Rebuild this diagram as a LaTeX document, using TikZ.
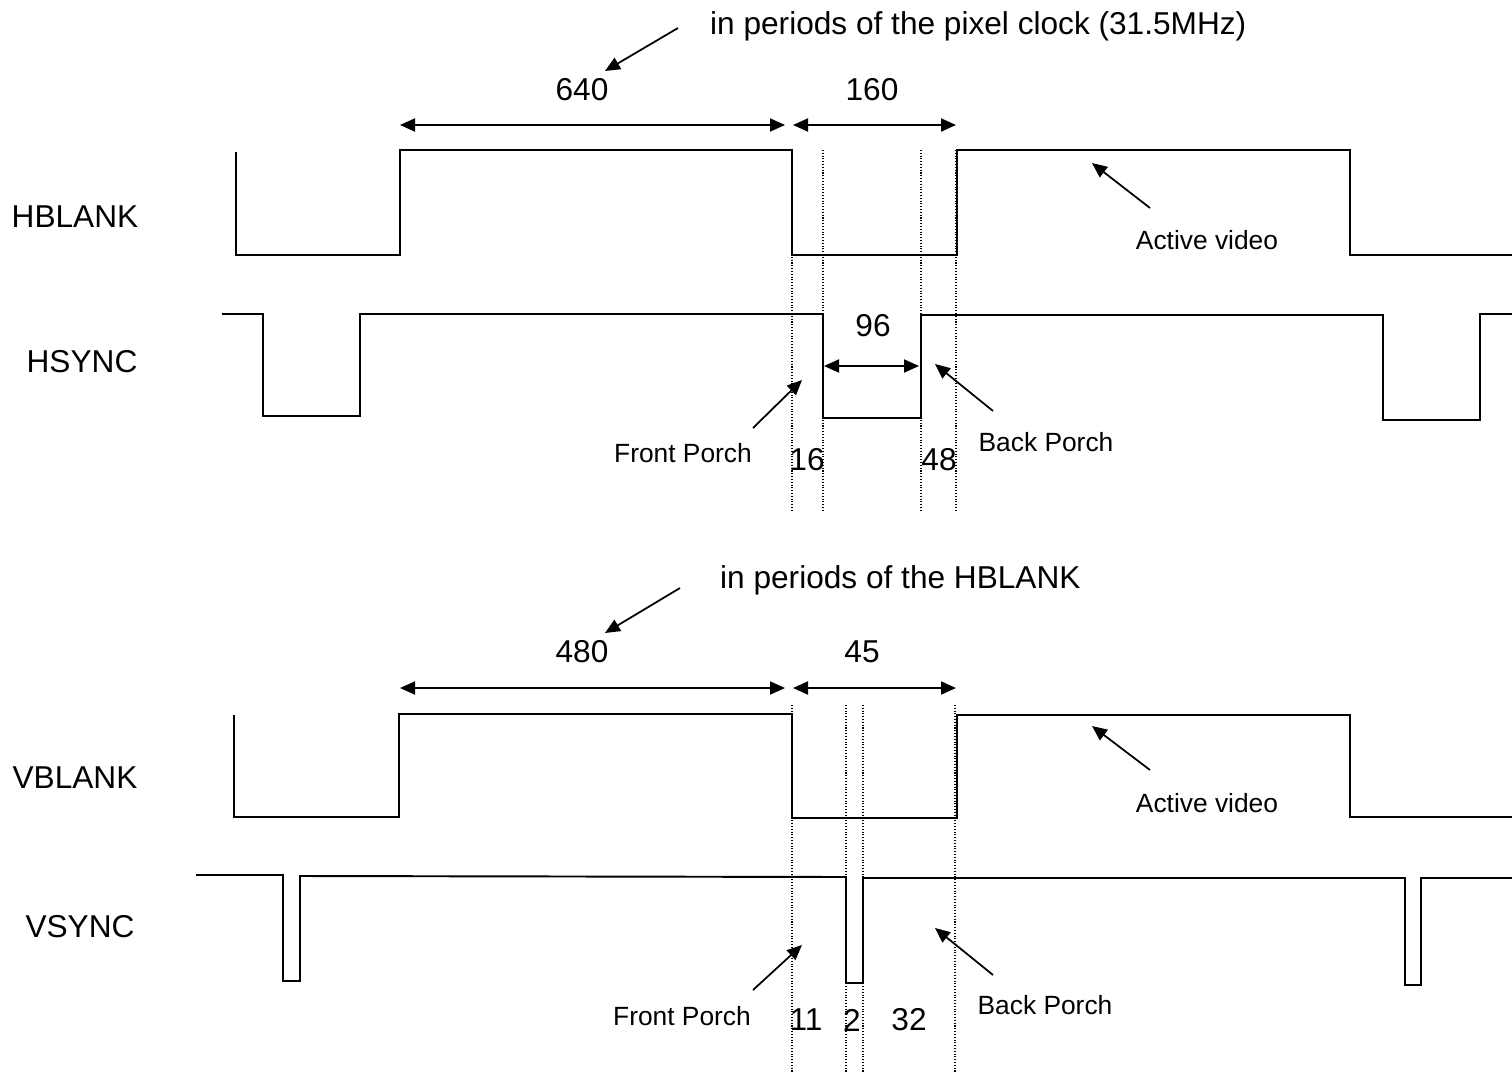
\documentclass[tikz,border=0pt]{standalone}
\usepackage{fontspec}
\setmainfont{Liberation Sans}
\usetikzlibrary{arrows.meta}

\begin{document}
\begin{tikzpicture}[
        x=0.02cm, y=-0.02cm,
        sig/.style={line width=1.1pt},
        guide/.style={densely dotted, line width=0.6pt},
        dim/.style={line width=1.1pt, {Triangle[length=0.3cm,width=0.26cm]}-{Triangle[length=0.3cm,width=0.26cm]}},
        note/.style={line width=1pt, -{Triangle[length=0.3cm,width=0.26cm]}},
        big/.style={font=\fontsize{18}{20}\selectfont},
        small/.style={font=\fontsize{15}{17}\selectfont}
    ]
        \useasboundingbox (0,0) rectangle (1512,1072);

        % signal names
        \node[big] (hb) at (75, 217)  {HBLANK};
        \node[big] (hs) at (82, 362)  {HSYNC};
        \node[big] (vb) at (75, 778)  {VBLANK};
        \node[big] (vs) at (80, 927)  {VSYNC};

        % horizontal timing
        \draw[sig] (236,152) -- (236,255) -- (400,255) -- (400,150) -- (792,150)
            -- (792,255) -- (957,255) -- (957,150) -- (1350,150) -- (1350,255) -- (1512,255);
        \draw[sig] (222,314) -- (263,314) -- (263,416) -- (360,416) -- (360,314) -- (823,314)
            -- (823,418) -- (921,418) -- (921,315) -- (1383,315) -- (1383,420) -- (1480,420)
            -- (1480,314) -- (1512,314);
        \foreach \x in {792, 823, 921, 956}
            \draw[guide] (\x,150) -- (\x,510);

        \coordinate (a1) at (400,125);
        \coordinate (a2) at (785,125);
        \coordinate (a3) at (793,125);
        \coordinate (a4) at (956,125);
        \draw[dim] (a1) -- (a2);
        \draw[dim] (a3) -- (a4);
        \node[big] (n640) at (582,90) {640};
        \node[big] (n160) at (872,90) {160};
        \node[big, anchor=west] (hunit) at (704,26) {in periods of the pixel clock (31.5MHz)};
        \coordinate (hu) at (678,28);
        \draw[note] (hu) -- (605,71);

        \coordinate (s1) at (824,366);
        \coordinate (s2) at (919,366);
        \draw[dim] (s1) -- (s2);
        \node[big] (n96) at (873,326) {96};
        \node[big] (n16) at (807,460) {16};
        \node[big] (n48) at (939,460) {48};

        \node[small] (hfp) at (683,453) {Front Porch};
        \node[small] (hbp) at (1046,442) {Back Porch};
        \node[small] (hav) at (1207,240) {Active video};
        \coordinate (hf) at (753,428);
        \coordinate (hk) at (993,411);
        \coordinate (ha) at (1150,208);
        \draw[note] (hf) -- (802,380);
        \draw[note] (hk) -- (935,364);
        \draw[note] (ha) -- (1092,163);

        % vertical timing
        \draw[sig] (234,715) -- (234,817) -- (399,817) -- (399,714) -- (792,714)
            -- (792,818) -- (957,818) -- (957,715) -- (1350,715) -- (1350,817) -- (1512,817);
        \draw[sig] (196,875) -- (283,875) -- (283,981) -- (300,981) -- (300,876) -- (846,877)
            -- (846,983) -- (863,983) -- (863,878) -- (1405,878) -- (1405,985) -- (1421,985)
            -- (1421,878) -- (1512,878);
        \foreach \x in {792, 846, 863, 955}
            \draw[guide] (\x,705) -- (\x,1072);

        \coordinate (b1) at (400,688);
        \coordinate (b2) at (785,688);
        \coordinate (b3) at (793,688);
        \coordinate (b4) at (956,688);
        \draw[dim] (b1) -- (b2);
        \draw[dim] (b3) -- (b4);
        \node[big] (n480) at (582,652) {480};
        \node[big] (n45) at (862,652) {45};
        \node[big, anchor=west] (vunit) at (714,580) {in periods of the HBLANK};
        \coordinate (vu) at (680,588);
        \draw[note] (vu) -- (605,633);

        \node[big] (n11) at (806,1020) {11};
        \node[big] (n2) at (852,1020) {2};
        \node[big] (n32) at (909,1020) {32};

        \node[small] (vfp) at (682,1016) {Front Porch};
        \node[small] (vbp) at (1045,1005) {Back Porch};
        \node[small] (vav) at (1207,803) {Active video};
        \coordinate (vf) at (753,990);
        \coordinate (vk) at (993,975);
        \coordinate (va) at (1150,770);
        \draw[note] (vf) -- (802,945);
        \draw[note] (vk) -- (935,928);
        \draw[note] (va) -- (1092,726);
    \end{tikzpicture}
\end{document}
